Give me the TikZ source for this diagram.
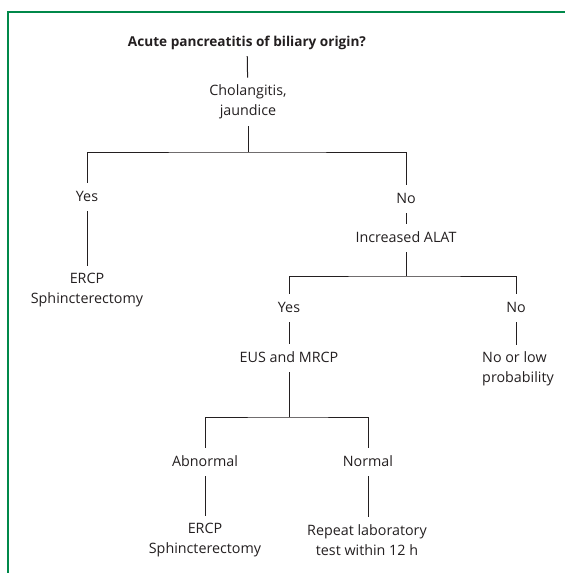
\documentclass[tikz,border=0pt]{standalone}
\usepackage{fontspec}
\setmainfont{Open Sans}
\definecolor{framegreen}{RGB}{0,136,74}
\definecolor{ink}{RGB}{35,31,32}
\begin{document}
\begin{tikzpicture}[x=1pt,y=-1pt,
  lbl/.style={font=\fontsize{14.3pt}{20pt}\selectfont, text=ink, text height=11pt, text depth=3pt, inner xsep=2pt, inner ysep=7pt},
  lbltwo/.style={font=\fontsize{14.3pt}{20pt}\selectfont, text=ink, align=center, inner xsep=2pt, inner ysep=7pt},
  conn/.style={draw=ink, line width=1pt}]
\useasboundingbox (0,0) rectangle (565,573);
\path[draw=framegreen,line width=1.6pt] (8,573) -- (8,12) -- (565,12);

\node[lbl,font=\fontsize{13.6pt}{20pt}\selectfont\bfseries] (q) at (247,42) {Acute pancreatitis of biliary origin?};
\node[lbltwo] (chol) at (248,102) {Cholangitis,\\jaundice};
\coordinate (j1) at (248,152);
\node[lbl] (yes1) at (87,197) {Yes};
\node[lbltwo] (ercp1) at (87,290) {ERCP\\Sphincterectomy};
\node[lbl] (no1) at (406,199) {No};
\node[lbl] (alat) at (406,238) {Increased ALAT};
\coordinate (j2) at (406,276);
\node[lbl] (yes2) at (289,308) {Yes};
\node[lbl] (eus) at (289,358) {EUS and MRCP};
\coordinate (j3) at (289,417);
\node[lbl] (abn) at (205,462) {Abnormal};
\node[lbltwo] (ercp2) at (205,540) {ERCP\\Sphincterectomy};
\node[lbl] (norm) at (368,462) {Normal};
\node[lbltwo] (rep) at (367,540) {Repeat laboratory\\test within 12 h};
\node[lbl] (no2) at (516,308) {No};
\node[lbltwo,align=left] (low) at (518,369) {No or low\\probability};

\path[conn] (q) -- (chol);
\path[conn] (chol) -- (j1);
\path[conn] (yes1) |- (j1) -| (no1);
\path[conn] (yes1) -- (ercp1);
\path[conn] (no1) -- (alat);
\path[conn] (alat) -- (j2);
\path[conn] (yes2) |- (j2) -| (no2);
\path[conn] (yes2) -- (eus);
\path[conn] (eus) -- (j3);
\path[conn] (abn) |- (j3) -| (norm);
\path[conn] (abn) -- (ercp2);
\path[conn] (norm) -- (norm |- rep.north);
\path[conn] (no2) -- (no2 |- low.north);
\end{tikzpicture}
\end{document}
